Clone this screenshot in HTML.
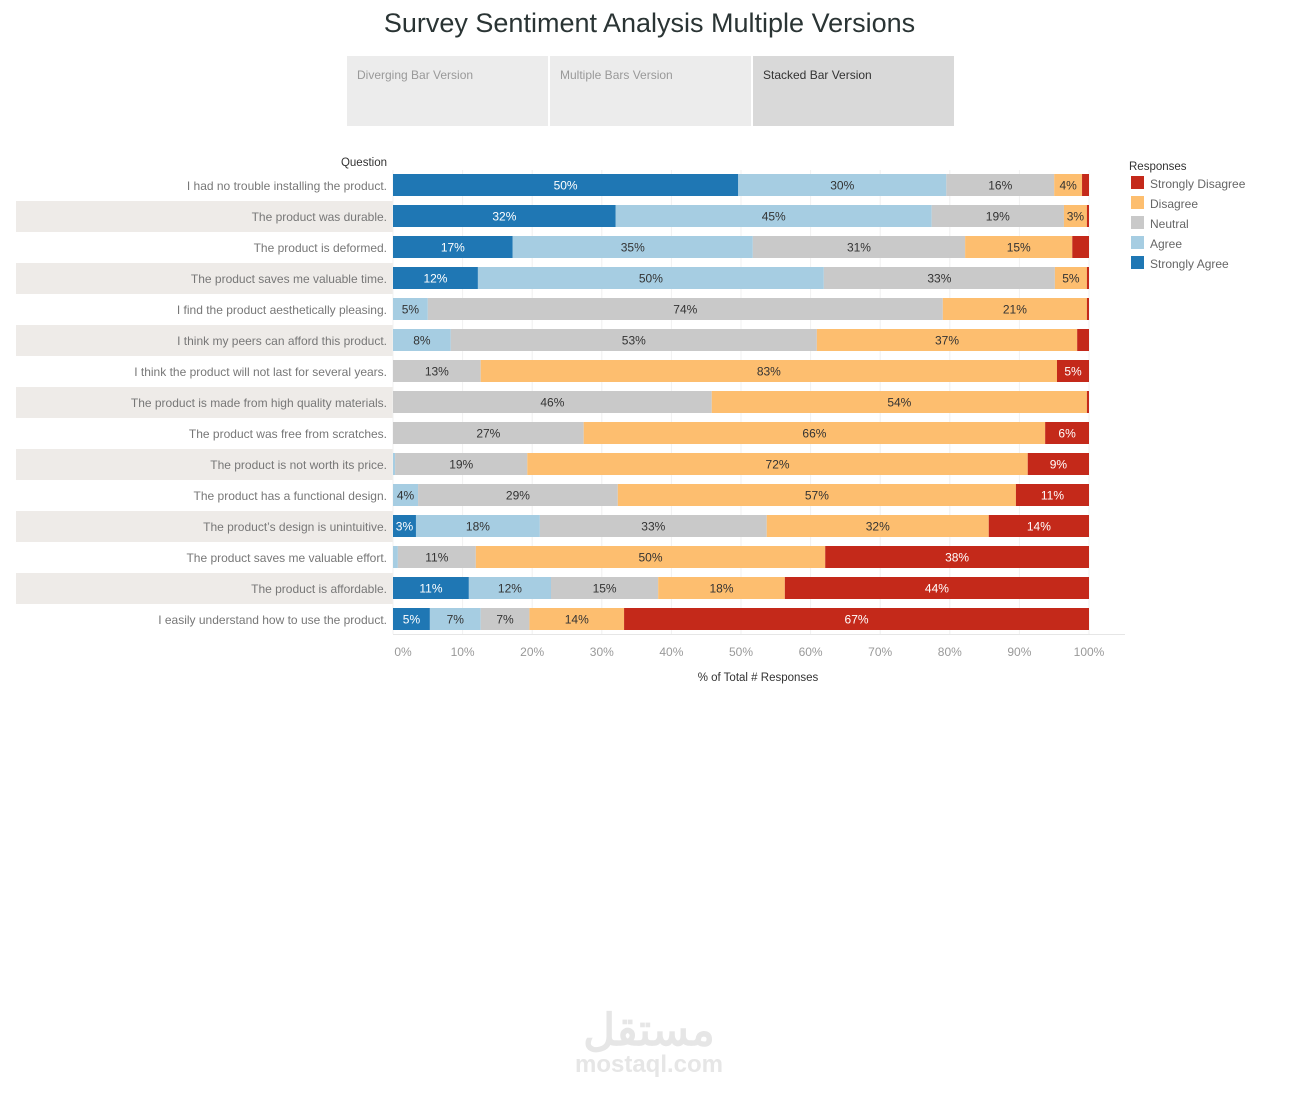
<!DOCTYPE html>
<html><head><meta charset="utf-8">
<style>
body{margin:0;width:1299px;height:1099px;background:#fff;font-family:"Liberation Sans","Noto Sans CJK SC",sans-serif;position:relative;overflow:hidden}
.title{position:absolute;left:0;width:1299px;top:8px;text-align:center;font-size:27px;color:#2a3434}
.tab{position:absolute;top:56px;width:201px;height:70px;background:#ececec;font-size:12px;color:#999;box-sizing:border-box;padding:12px 10px}
.tab.sel{background:#d9d9d9;color:#333}
</style></head><body>
<div class="title">Survey Sentiment Analysis Multiple Versions</div>
<div class="tab" style="left:347px">Diverging Bar Version</div>
<div class="tab" style="left:550px">Multiple Bars Version</div>
<div class="tab sel" style="left:753px">Stacked Bar Version</div>
<svg id="chart" width="1299" height="1099" style="position:absolute;left:0;top:0"></svg>
<script>
const questions=["I had no trouble installing the product.","The product was durable.","The product is deformed.","The product saves me valuable time.","I find the product aesthetically pleasing.","I think my peers can afford this product.","I think the product will not last for several years.","The product is made from high quality materials.","The product was free from scratches.","The product is not worth its price.","The product has a functional design.","The product\u2019s design is unintuitive.","The product saves me valuable effort.","The product is affordable.","I easily understand how to use the product."];
const stronglyAgree=[49.6,32,17.2,12.2,0,0,0,0,0,0,0,3.3,0,10.9,5.3];
const agree=[29.9,45.4,34.5,49.7,5,8.3,0,0,0,0.3,3.6,17.8,0.7,11.8,7.3];
const neutral=[15.5,19,30.5,33.2,74,52.6,12.6,45.8,27.4,19,28.7,32.6,11.2,15.4,7];
const disagree=[4,3.3,15.4,4.6,20.7,37.4,82.8,53.9,66.3,71.9,57.2,31.9,50.2,18.2,13.6];
const stronglyDisagree=[1,0.3,2.4,0.3,0.3,1.7,4.6,0.3,6.3,8.8,10.5,14.4,37.9,43.7,66.8];
const seriesNames=["Strongly Agree","Agree","Neutral","Disagree","Strongly Disagree"];
const tickLabels=["0%","10%","20%","30%","40%","50%","60%","70%","80%","90%","100%"];
const colors=["#1f77b4","#a6cde2","#c9c9c9","#fdbe6f","#c4291a"];
const textCol=["#fff","#333","#333","#333","#fff"];
const series=[stronglyAgree,agree,neutral,disagree,stronglyDisagree];
const svg=document.getElementById('chart');const NS="http://www.w3.org/2000/svg";
const X0=393,X1=1089,Y0=170,RH=31,BH=22;
const x=v=>X0+(X1-X0)*v/100;
const y=i=>Y0+i*RH;
function mk(t,a,txt){const e=document.createElementNS(NS,t);for(const k in a)e.setAttribute(k,a[k]);if(txt!==undefined)e.textContent=txt;svg.appendChild(e);return e;}
questions.forEach((q,i)=>{if(i%2==1){const r=mk('rect',{x:16,y:y(i),width:X0-16,height:RH,fill:'#eeebe8'});

}});
tickLabels.forEach((t,k)=>{const l=mk('line',{x1:x(k*10),x2:x(k*10),y1:Y0,y2:634,stroke:'#f0f0f0'});


const tx=mk('text',{x:x(k*10)+(k==0?10:0),y:656,'font-size':12,fill:'#999','text-anchor':'middle'},t);

});
const ax=mk('line',{x1:X0,x2:1125,y1:634.5,y2:634.5,stroke:'#e6e6e6'});


const xt=mk('text',{x:758,y:681,'font-size':11.5,fill:'#333','text-anchor':'middle'},'% of Total # Responses');


const qh=mk('text',{x:387,y:166,'font-size':11.5,fill:'#333','text-anchor':'end'},'Question');


questions.forEach((q,i)=>{
const t=mk('text',{x:387,y:y(i)+20,'font-size':12,fill:'#777','text-anchor':'end'},q);


let acc=0;
series.forEach((s,j)=>{const v=s[i];if(v<=0)return;
const r=mk('rect',{x:x(acc),y:y(i)+4,width:x(acc+v)-x(acc),height:BH,fill:colors[j]});


if(v>=2.5){const lt=mk('text',{x:(x(acc)+x(acc+v))/2,y:y(i)+19.5,'font-size':12,fill:textCol[j],'text-anchor':'middle'},Math.round(v)+'%');

}
acc+=v;});});
const lh=mk('text',{x:1129,y:170,'font-size':11.5,fill:'#333'},'Responses');


seriesNames.slice().reverse().forEach((n,k)=>{const j=4-k;
const r=mk('rect',{x:1131,y:176+k*20,width:13,height:13,fill:colors[j]});


const t=mk('text',{x:1150,y:188+k*20,'font-size':12,fill:'#666'},n);

});
const w1=mk('text',{x:649,y:1045,'font-size':44,'font-weight':'bold',fill:'#e6e6e6','text-anchor':'middle'},'مستقل');


const w2=mk('text',{x:649,y:1072,'font-size':24,'font-weight':'bold',fill:'#e6e6e6','text-anchor':'middle'},'mostaql.com');


</script>
</body></html>
